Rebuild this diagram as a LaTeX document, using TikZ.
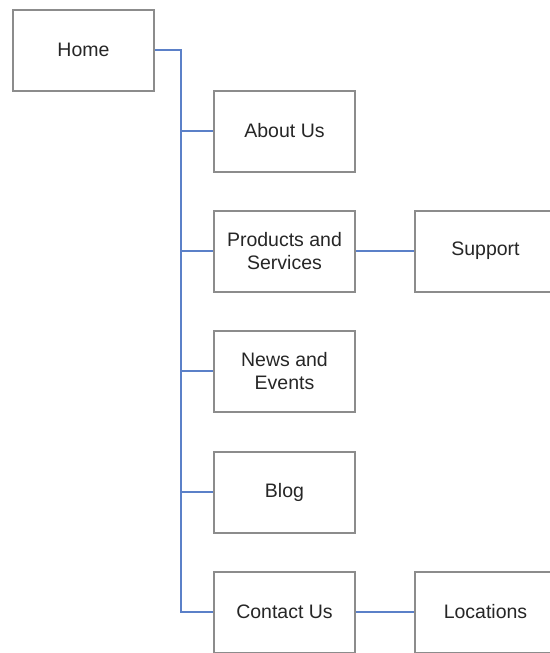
\documentclass[tikz,border=0pt]{standalone}
\usepackage{fontspec}
\setmainfont{Liberation Sans}
\begin{document}
\begin{tikzpicture}[x=1pt,y=-1pt]
\definecolor{linkblue}{HTML}{5B80C8}
\tikzset{
  page/.style={draw=black!45, line width=2pt, fill=white, minimum width=141pt,
    minimum height=81pt, inner sep=0pt, align=center, text=black!85,
    font=\fontsize{19.5}{23}\selectfont},
  link/.style={draw=linkblue, line width=1.8pt}}
\useasboundingbox (0,0) rectangle (549,653);
\node[page] (home) at (83.5,50) {Home};
\node[page] (about) at (284.5,131) {About Us};
\node[page] (prod) at (284.5,251) {Products and\\Services};
\node[page] (support) at (485.5,251) {Support};
\node[page] (news) at (284.5,371) {News and\\Events};
\node[page] (blog) at (284.5,492) {Blog};
\node[page] (contact) at (284.5,612) {Contact Us};
\node[page] (loc) at (485.5,612) {Locations};
\coordinate (trunk) at (181,0);
% main trunk from Home down to Contact Us
\draw[link] (home.east) -| (trunk |- contact.west) -- (contact.west);
\foreach \n in {about,prod,news,blog}
  \draw[link] (trunk |- \n.west) -- (\n.west);
\draw[link] (prod.east) -- (support.west);
\draw[link] (contact.east) -- (loc.west);
\end{tikzpicture}
\end{document}
